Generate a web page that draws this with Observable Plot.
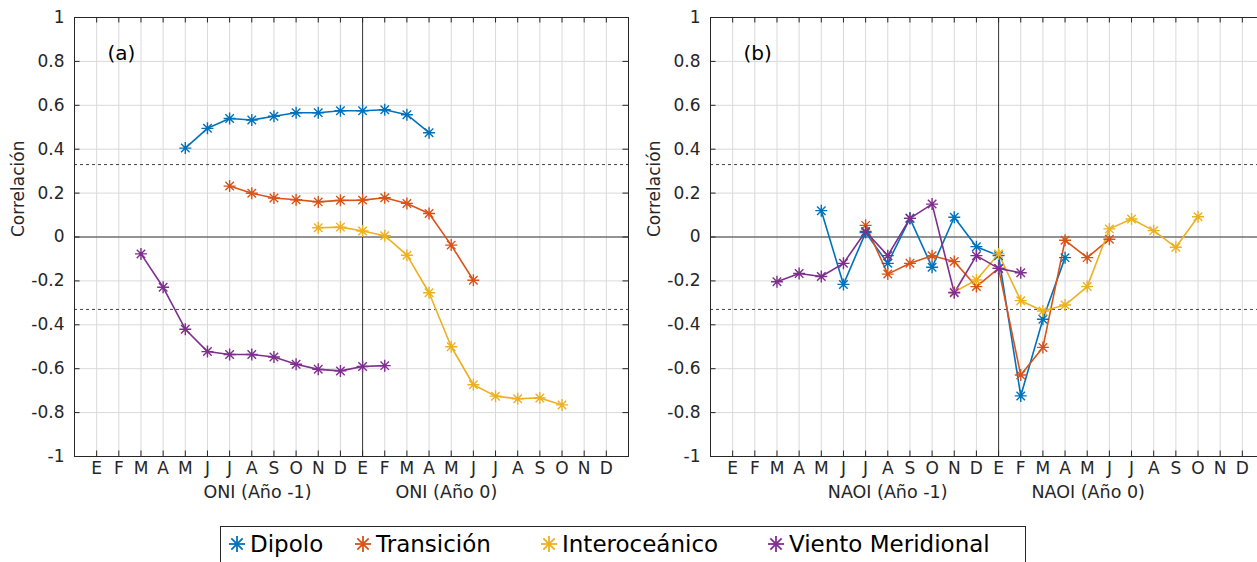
<!DOCTYPE html>
<html>
<head>
<meta charset="utf-8">
<script src="https://cdn.jsdelivr.net/npm/d3@7"></script>
<script src="https://cdn.jsdelivr.net/npm/@observablehq/plot@0.6"></script>
<style>
  html, body { margin: 0; padding: 0; background: #fff; overflow: hidden; }
  #root { position: relative; width: 1257px; height: 562px; overflow: hidden; font-family: "DejaVu Sans", sans-serif; }
  .panel { position: absolute; top: 0; width: 640px; }
  .panel svg { max-width: none !important; width: 640px; height: 510px; }
  #legend { position: absolute; left: 220px; top: 526px; width: 806px; height: 50px; border: 1px solid #262626; box-sizing: border-box; background: #fff; }
  .item { position: absolute; top: 4px; font-size: 23px; color: #000; display: flex; align-items: center; white-space: nowrap; }
  .item svg { margin-right: 1px; }
</style>
</head>
<body>
<div id="root">
  <div id="pa" class="panel" style="left:0px"></div>
  <div id="pb" class="panel" style="left:636px"></div>
  <div id="legend"></div>
</div>
<script>
// Month tick labels (x positions 1..24)
const months = ["E","F","M","A","M","J","J","A","S","O","N","D","E","F","M","A","M","J","J","A","S","O","N","D"];
const yTicks = [-1,-0.8,-0.6,-0.4,-0.2,0,0.2,0.4,0.6,0.8,1];
const seriesNames = ["Dipolo","Transición","Interoceánico","Viento Meridional"];
const seriesColors = ["#0072BD","#D95319","#EDB120","#7E2F8E"];
const seriesStart = [5, 7, 11, 3]; // first month index of each series
const significance = [0.33, -0.33];

// Panel (a): ONI
const aDipolo        = [0.405,0.495,0.540,0.533,0.550,0.566,0.566,0.575,0.575,0.580,0.557,0.475];
const aTransicion    = [0.232,0.199,0.178,0.170,0.160,0.167,0.168,0.179,0.153,0.107,-0.037,-0.197];
const aInteroceanico = [0.042,0.045,0.027,0.006,-0.083,-0.254,-0.500,-0.673,-0.725,-0.737,-0.733,-0.765];
const aViento        = [-0.077,-0.229,-0.420,-0.522,-0.535,-0.535,-0.547,-0.580,-0.603,-0.610,-0.590,-0.586];

// Panel (b): NAOI
const bDipolo        = [0.120,-0.216,0.020,-0.120,0.085,-0.138,0.090,-0.044,-0.085,-0.724,-0.375,-0.094];
const bTransicion    = [0.053,-0.169,-0.120,-0.085,-0.112,-0.226,-0.143,-0.629,-0.503,-0.015,-0.094,-0.010];
const bInteroceanico = [-0.250,-0.196,-0.077,-0.290,-0.337,-0.310,-0.226,0.037,0.082,0.029,-0.047,0.092];
const bViento        = [-0.204,-0.166,-0.180,-0.120,0.025,-0.085,0.085,0.150,-0.254,-0.085,-0.143,-0.163];

function toRows(arrays) {
  const rows = [];
  arrays.forEach((vals, s) => vals.forEach((v, i) => rows.push({series: seriesNames[s], x: seriesStart[s] + i, y: v})));
  return rows;
}

// 8-arm asterisk symbol (MATLAB "*")
const asterisk8 = {
  draw(ctx, size) {
    const r = Math.sqrt(size / Math.PI);
    const d = r * Math.SQRT1_2;
    ctx.moveTo(0, -r); ctx.lineTo(0, r);
    ctx.moveTo(-r, 0); ctx.lineTo(r, 0);
    ctx.moveTo(-d, -d); ctx.lineTo(d, d);
    ctx.moveTo(-d, d); ctx.lineTo(d, -d);
  }
};

const monthIdx = months.map((m, i) => i + 1);
const fmtY = d => String(+d.toFixed(1));

function panel(arrays, tag, xlab) {
  const rows = toRows(arrays);
  const color = {domain: seriesNames, range: seriesColors};
  return Plot.plot({
    width: 640, height: 510,
    marginLeft: 74, marginRight: 12, marginTop: 17, marginBottom: 54,
    x: {domain: [0, 25]},
    y: {domain: [-1, 1]},
    color,
    style: {fontFamily: "DejaVu Sans", fontSize: "16px", color: "#262626", background: "#fff", overflow: "visible", maxWidth: "none"},
    marks: [
      Plot.gridX(monthIdx, {stroke: "#d9d9d9", strokeOpacity: 1}),
      Plot.gridY(yTicks, {stroke: "#d9d9d9", strokeOpacity: 1}),
      Plot.ruleY(significance, {stroke: "#444", strokeDasharray: "3,3", strokeWidth: 1}),
      Plot.ruleY([0], {stroke: "#3a3a3a", strokeWidth: 1}),
      Plot.ruleX([13], {stroke: "#3a3a3a", strokeWidth: 1}),
      // inward ticks on all four sides
      Plot.ruleX(monthIdx, {x: d => d, y1: -1, y2: -0.975, stroke: "#262626"}),
      Plot.ruleX(monthIdx, {x: d => d, y1: 1, y2: 0.975, stroke: "#262626"}),
      Plot.ruleY(yTicks, {y: d => d, x1: 0, x2: 0.25, stroke: "#262626"}),
      Plot.ruleY(yTicks, {y: d => d, x1: 25, x2: 24.75, stroke: "#262626"}),
      Plot.frame({stroke: "#262626", strokeWidth: 1}),
      Plot.axisX(monthIdx, {tickSize: 0, tickPadding: 5, tickFormat: i => months[i - 1], label: null, fontSize: 17, fill: "#262626"}),
      Plot.axisY(yTicks, {tickSize: 0, tickPadding: 10, tickFormat: fmtY, label: null, fontSize: 17, fill: "#262626"}),
      Plot.line(rows, {x: "x", y: "y", z: "series", stroke: "series", strokeWidth: 1.6}),
      Plot.dot(rows, {x: "x", y: "y", stroke: "series", symbol: asterisk8, r: 6, strokeWidth: 1.4}),
      Plot.text([tag], {frameAnchor: "top-left", text: d => d, dx: 33, dy: 28, fontSize: 20, fill: "#000", textAnchor: "start"}),
      Plot.text(["Correlación"], {frameAnchor: "left", text: d => d, rotate: -90, dx: -56, fontSize: 17, fill: "#262626"}),
      Plot.text([xlab[0]], {frameAnchor: "bottom", text: d => d, dx: -40, dy: 41, textAnchor: "end", fontSize: 17.5, fill: "#262626"}),
      Plot.text([xlab[1]], {frameAnchor: "bottom", text: d => d, dx: 44, dy: 41, textAnchor: "start", fontSize: 17.5, fill: "#262626"})
    ]
  });
}

document.getElementById("pa").appendChild(panel([aDipolo, aTransicion, aInteroceanico, aViento], "(a)", ["ONI (Año -1)", "ONI (Año 0)"]));
document.getElementById("pb").appendChild(panel([bDipolo, bTransicion, bInteroceanico, bViento], "(b)", ["NAOI (Año -1)", "NAOI (Año 0)"]));

// Legend
const legendLeft = [4, 130, 316, 543];
const legend = document.getElementById("legend");
seriesNames.forEach((name, i) => {
  const it = document.createElement("div");
  it.className = "item";
  it.style.left = legendLeft[i] + "px";
  const c = seriesColors[i];
  it.innerHTML = `<svg width="24" height="24" viewBox="-12 -12 24 24"><g stroke="${c}" stroke-width="1.8">
    <line x1="0" y1="-8" x2="0" y2="8"/><line x1="-8" y1="0" x2="8" y2="0"/>
    <line x1="-5.7" y1="-5.7" x2="5.7" y2="5.7"/><line x1="-5.7" y1="5.7" x2="5.7" y2="-5.7"/></g></svg><span>${name}</span>`;
  legend.appendChild(it);
});
</script>
</body>
</html>
